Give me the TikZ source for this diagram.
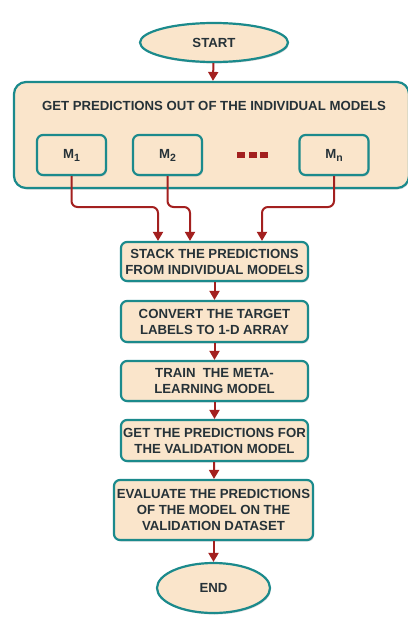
\documentclass[tikz,border=0pt]{standalone}
\usepackage{fontspec}
\setmainfont{Liberation Sans}
\usepackage{tikz}
\usetikzlibrary{shapes.geometric,arrows.meta,shadows}
\definecolor{boxfill}{HTML}{FAE5CB}
\definecolor{tealline}{HTML}{1B8A8C}
\definecolor{arrowred}{HTML}{A3201F}
\definecolor{textdark}{HTML}{263238}
\newcommand{\msub}[1]{\raisebox{-3pt}{\fontsize{10.5}{10.5}\selectfont #1}}

\tikzset{
  base/.style={draw=tealline, fill=boxfill, line width=2.2pt, text=textdark,
    font=\bfseries\fontsize{13.2}{16}\selectfont, align=center, inner sep=0pt,
    drop shadow={shadow xshift=1pt, shadow yshift=-1.5pt, fill=black!30}},
  terminal/.style={base, ellipse},
  flowbox/.style={base, rectangle, rounded corners=6pt, minimum width=187pt},
  modelbox/.style={base, rectangle, rounded corners=6pt, minimum width=69pt, minimum height=40pt},
  link/.style={arrowred, line width=2pt, -{Triangle[width=10pt,length=9pt]}},
}

\begin{document}
\begin{tikzpicture}[x=1pt, y=-1pt]
            \useasboundingbox (0,0) rectangle (407,618);
            \node[terminal, minimum width=148pt, minimum height=39pt] (start) at (214,42.5) {START};
            \node[base, rectangle, rounded corners=12pt, minimum width=395pt, minimum height=106pt] (predbox) at (211.5,135) {};
            \node[text=textdark, font=\bfseries\fontsize{13.2}{16}\selectfont] (predtitle) at (214,106) {GET PREDICTIONS OUT OF THE INDIVIDUAL MODELS};
            \node[modelbox] (mone) at (71.5,155) {M\msub{1}};
            \node[modelbox] (mtwo) at (167.5,155) {M\msub{2}};
            \node[modelbox] (mn) at (334,155) {M\msub{n}};
            \node[inner sep=0pt, minimum size=6pt] (dots) at (252.5,155) {};
            \foreach \i in {-1,0,1}
                \fill[arrowred] ([xshift=\i*11.5pt]dots.center) ++(-4,-3) rectangle ++(8,6);
            \node[flowbox, minimum height=39pt] (stack) at (214.5,261.5) {STACK THE PREDICTIONS\\FROM INDIVIDUAL MODELS};
            \node[flowbox, minimum height=41pt] (convert) at (214.5,321.5) {CONVERT THE TARGET\\LABELS TO 1-D ARRAY};
            \node[flowbox, minimum height=40pt] (train) at (214.5,381) {TRAIN\ \ THE META-\\LEARNING MODEL};
            \node[flowbox, minimum height=41pt] (getpred) at (214.5,440.5) {GET THE PREDICTIONS FOR\\THE VALIDATION MODEL};
            \node[flowbox, minimum width=199pt, minimum height=60pt] (evaluate) at (213.5,510) {EVALUATE THE PREDICTIONS\\OF THE MODEL ON THE\\VALIDATION DATASET};
            \node[terminal, minimum width=113pt, minimum height=50pt] (finish) at (213.5,588) {END};
            % connectors
            \draw[link] (start) -- (predbox);
            \draw[link, rounded corners=6pt] (mone.south) |- (158,207) -- ([xshift=-56.5pt]stack.north);
            \draw[link, rounded corners=6pt] (mtwo.south) |- (190,207) -- ([xshift=-24.5pt]stack.north);
            \draw[link, rounded corners=6pt] (mn.south) |- (262,207) -- ([xshift=47.5pt]stack.north);
            \draw[link] (stack) -- (convert);
            \draw[link] (convert) -- (train);
            \draw[link] (train) -- (getpred);
            \draw[link] (getpred) -- (evaluate);
            \draw[link] (evaluate) -- (finish);
        \end{tikzpicture}
\end{document}
